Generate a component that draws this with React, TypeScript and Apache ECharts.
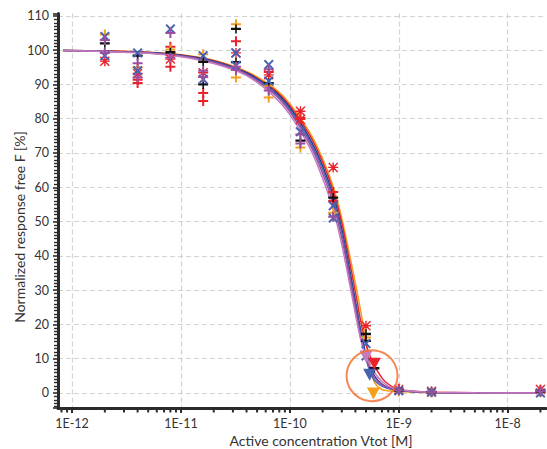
import React, { useEffect, useRef } from 'react';
import * as echarts from 'echarts';

// ---------- data ----------
const xMinLog = -12.129;
const xMaxLog = -7.648;
const yMin = -4.4;
const yMax = 110.7;

const majorDecades = [-12, -11, -10, -9, -8];
const minorMultipliers = [2, 3, 4, 5, 6, 7, 8, 9];
const minorDecades = [-13, -12, -11, -10, -9, -8];

// fitted curves (concentration in M, normalized free response in %)
const curveConc = [8.3e-13, 2e-12, 5e-12, 1e-11, 2e-11, 4e-11, 7e-11, 1e-10, 1.5e-10, 2e-10, 2.5e-10, 3e-10, 3.5e-10, 4e-10, 4.5e-10, 5e-10, 5.5e-10, 6e-10, 7e-10, 8e-10, 1e-9, 1.5e-9, 2e-9, 5e-9, 2e-8];
const orangeFit = [99.9, 99.8, 99.4, 98.7, 97.1, 93.8, 89.2, 84.4, 76.4, 68.4, 60.2, 51.0, 41.0, 32.0, 23.4, 15.4, 7.6, 3.0, 1.0, 0.6, 0.4, 0.2, 0.1, 0.0, 0.0];
const redFit = [99.9, 99.75, 99.35, 98.6, 96.9, 93.5, 88.8, 83.8, 75.6, 67.4, 59.0, 49.6, 39.0, 29.4, 20.6, 14.2, 10.4, 7.8, 4.4, 2.6, 1.0, 0.4, 0.2, 0.05, 0.0];
const navyFit = [99.9, 99.7, 99.3, 98.5, 96.8, 93.4, 88.4, 83.2, 74.6, 66.2, 57.6, 47.8, 36.8, 26.8, 17.8, 11.2, 7.4, 4.9, 2.6, 1.6, 0.8, 0.3, 0.15, 0.02, 0.0];
const blueFit = [99.9, 99.7, 99.25, 98.4, 96.6, 93.1, 88.0, 82.6, 73.8, 65.2, 56.6, 46.6, 35.6, 25.6, 16.8, 10.0, 5.8, 3.6, 2.0, 1.3, 0.7, 0.3, 0.12, 0.02, 0.0];
const purpleFit = [99.9, 99.65, 99.2, 98.3, 96.4, 92.9, 87.5, 82.0, 73.0, 64.0, 55.2, 45.0, 34.4, 24.4, 15.8, 10.2, 6.6, 4.4, 2.4, 1.5, 0.8, 0.3, 0.15, 0.02, 0.0];
const pinkFit = [99.9, 99.6, 99.1, 98.1, 96.1, 92.6, 86.8, 81.2, 72.0, 62.6, 53.6, 43.2, 32.6, 23.0, 15.2, 10.6, 7.8, 5.8, 3.4, 2.0, 1.0, 0.4, 0.2, 0.03, 0.0];

// measured points [concentration, response %]
const redPlusPts = [[4e-12, 91.4], [4e-12, 90.4], [8e-12, 101], [8e-12, 95.2], [1.6e-11, 87.5], [1.6e-11, 85.2], [3.2e-11, 102.6], [6.4e-11, 93.6], [1.25e-10, 80.2], [2.5e-10, 58.6], [2.5e-10, 56.0], [1e-9, 1.2], [2e-8, 0.8]];
const redStarPts = [[2e-12, 96.8], [4e-12, 93.2], [8e-12, 97.4], [1.6e-11, 93.4], [3.2e-11, 99.2], [6.4e-11, 92.8], [1.25e-10, 82.2], [1.25e-10, 79.8], [2.5e-10, 65.8], [5e-10, 19.6], [1e-9, 1.0], [2e-9, 0.5], [2e-8, 1.0]];
const orangePlusPts = [[2e-12, 111.8], [2e-12, 104.6], [4e-12, 95.0], [8e-12, 100.2], [1.6e-11, 98.8], [3.2e-11, 107.6], [3.2e-11, 92.0], [6.4e-11, 89.6], [6.4e-11, 86.2], [1.25e-10, 71.6], [2.5e-10, 52.6], [5e-10, 16.2], [1e-9, 0.4], [2e-9, 0.1], [2e-8, 0.2]];
const blackPts = [[2e-12, 102.0], [4e-12, 98.4], [8e-12, 99.4], [1.6e-11, 96.6], [1.6e-11, 90.0], [3.2e-11, 106.2], [3.2e-11, 96.5], [6.4e-11, 90.4], [1.25e-10, 73.6], [2.5e-10, 57.0], [5e-10, 17.2], [5e-10, 15.2], [5.97e-10, 7.2], [1e-9, 0.7], [2e-9, 0.2], [2e-8, 0.3]];
const blueCrossPts = [[2e-12, 104.0], [2e-12, 98.4], [4e-12, 99.2], [4e-12, 94.0], [8e-12, 106.2], [1.6e-11, 98.4], [1.6e-11, 91.5], [3.2e-11, 99.2], [3.2e-11, 95.5], [6.4e-11, 95.8], [6.4e-11, 91.0], [1.25e-10, 76.2], [2.5e-10, 54.6], [2.5e-10, 51.0], [5e-10, 14.4], [5e-10, 10.8], [1e-9, 0.6], [2e-9, 0.2], [2e-8, 0.0]];
const purplePlusPts = [[2e-12, 103.0], [2e-12, 99.2], [4e-12, 96.2], [4e-12, 92.0], [8e-12, 105.0], [8e-12, 97.8], [1.6e-11, 94.0], [1.6e-11, 92.2], [3.2e-11, 95.2], [3.2e-11, 94.2], [6.4e-11, 94.4], [6.4e-11, 88.2], [1.25e-10, 75.4], [1.25e-10, 72.8], [2.5e-10, 51.4], [1e-9, 0.8], [2e-9, 0.3], [2e-8, 0.4]];
const pinkTrianglePts = [[5e-10, 10.6]];
const redTrianglePts = [[5.97e-10, 8.5]];
const blueTrianglePts = [[5.4e-10, 5.3]];
const orangeTrianglePts = [[5.85e-10, -0.2]];
const highlightPt = [[5.69e-10, 5.0]];

// ---------- styles ----------
const C_RED = '#E8232A';
const C_ORANGE = '#F5A01C';
const C_NAVY = '#263A8A';
const C_BLUE = '#4862B2';
const C_PURPLE = '#9A4FA0';
const C_PINK = '#C57BC0';
const C_BLACK = '#111111';
const C_RING = '#F26A2A';
const AXIS = '#2b2b2b';
const FONT = 'Lato';

const SYM_PLUS = 'path://M4,0H6V4H10V6H6V10H4V6H0V4H4Z';
const SYM_CROSS = 'path://M1.4,0L5,3.6L8.6,0L10,1.4L6.4,5L10,8.6L8.6,10L5,6.4L1.4,10L0,8.6L3.6,5L0,1.4Z';
const SYM_STAR = 'path://M4.3,0H5.7V4.3H10V5.7H5.7V10H4.3V5.7H0V4.3H4.3Z M1,0L5,4L9,0L10,1L6,5L10,9L9,10L5,6L1,10L0,9L4,5L0,1Z';
const SYM_BLACK = 'path://M0,3.7H10V6.3H0Z M4.2,0H5.8V10H4.2Z';
const SYM_TRI_DOWN = 'path://M0,0H10L5,9Z';

const toLog = (pts: number[][]) => pts.map(([c, v]) => [Math.log10(c), v]);

export default function App() {
  const ref = useRef<HTMLDivElement>(null);

  useEffect(() => {
    if (!ref.current) return;
    const chart = echarts.init(ref.current, null, { renderer: 'svg' });

    const fits: [number[], string][] = [
      [orangeFit, C_ORANGE],
      [redFit, C_RED],
      [navyFit, C_NAVY],
      [blueFit, C_BLUE],
      [purpleFit, C_PURPLE],
      [pinkFit, C_PINK],
    ];

    const lineSeries = fits.map(([vals, color]) => ({
      type: 'line',
      data: curveConc.map((c, i) => [Math.log10(c), vals[i]]),
      showSymbol: false,
      symbol: 'none',
      smooth: 0.25,
      lineStyle: { width: 1.5, color },
      z: 2,
      silent: true,
    }));

    const scatter = (pts: number[][], symbol: string, color: string, size: number | number[], z = 3) => ({
      type: 'scatter',
      data: toLog(pts),
      symbol,
      symbolSize: size,
      itemStyle: { color, opacity: 1 },
      z,
      silent: true,
    });

    const minorTickData: number[][] = [];
    minorDecades.forEach((d) =>
      minorMultipliers.forEach((m) => {
        const lv = Math.log10(m) + d;
        if (lv > xMinLog && lv < xMaxLog) minorTickData.push([lv, yMin]);
      })
    );

    chart.setOption({
      animation: false,
      textStyle: { fontFamily: FONT },
      grid: { left: 58, right: 1, top: 13.5, bottom: 41, containLabel: false },
      xAxis: {
        type: 'value',
        min: xMinLog,
        max: xMaxLog,
        minInterval: 1,
        maxInterval: 1,
        splitNumber: 5,
        axisLine: { show: true, onZero: false, lineStyle: { color: AXIS, width: 3 } },
        axisTick: { show: true, length: 5, lineStyle: { color: AXIS, width: 2 }, customValues: majorDecades },
        axisLabel: {
          color: '#333',
          fontSize: 12.5,
          margin: 9,
          customValues: majorDecades,
          formatter: (v: number) => '1E' + Math.round(v),
        },
        splitLine: { show: true, lineStyle: { color: '#d2d2d2', type: [5, 3], width: 1.2 } },
      },
      yAxis: {
        type: 'value',
        min: yMin,
        max: yMax,
        minInterval: 10,
        maxInterval: 10,
        splitNumber: 11,
        axisLine: { show: true, onZero: false, lineStyle: { color: AXIS, width: 3 } },
        axisTick: { show: true, length: 5, lineStyle: { color: AXIS, width: 1.6 } },
        minorTick: { show: true, splitNumber: 10, length: 4, lineStyle: { color: AXIS, width: 1.4 } },
        axisLabel: { color: '#333', fontSize: 12.5, margin: 9, showMinLabel: false, showMaxLabel: false },
        splitLine: { show: true, showMinLine: false, showMaxLine: false, lineStyle: { color: '#d2d2d2', type: [5, 3], width: 1.2 } },
      },
      graphic: [
        {
          type: 'text',
          x: 321,
          y: 440,
          style: {
            text: 'Active concentration Vtot [M]',
            fill: '#333',
            font: `14px ${FONT}`,
            align: 'center',
            verticalAlign: 'middle',
          },
          silent: true,
        },
        {
          type: 'text',
          x: 19,
          y: 227,
          rotation: Math.PI / 2,
          style: {
            text: 'Normalized response free F [%]',
            fill: '#333',
            font: `14px ${FONT}`,
            align: 'center',
            verticalAlign: 'middle',
          },
          silent: true,
        },
      ],
      series: [
        ...lineSeries,
        scatter(redPlusPts, SYM_PLUS, C_RED, 10),
        scatter(redStarPts, SYM_STAR, C_RED, 10),
        scatter(orangePlusPts, SYM_PLUS, C_ORANGE, 10),
        scatter(blackPts, SYM_BLACK, C_BLACK, [10, 9]),
        scatter(blueCrossPts, SYM_CROSS, C_BLUE, 10),
        scatter(purplePlusPts, SYM_PLUS, C_PURPLE, 10),
        scatter(pinkTrianglePts, SYM_TRI_DOWN, C_PINK, [13, 12], 4),
        scatter(redTrianglePts, SYM_TRI_DOWN, C_RED, [13, 12], 4),
        scatter(blueTrianglePts, SYM_TRI_DOWN, C_BLUE, [13, 12], 4),
        scatter(orangeTrianglePts, SYM_TRI_DOWN, C_ORANGE, [13, 12], 4),
        {
          type: 'scatter',
          data: toLog(highlightPt),
          symbol: 'circle',
          symbolSize: 51,
          itemStyle: { color: 'rgba(0,0,0,0)', borderColor: C_RING, borderWidth: 2 },
          z: 5,
          silent: true,
        },
        {
          type: 'custom',
          data: minorTickData,
          silent: true,
          z: 6,
          clip: false,
          renderItem: (_params: any, api: any) => {
            const p = api.coord([api.value(0), api.value(1)]);
            return {
              type: 'line',
              shape: { x1: p[0], y1: p[1] + 1, x2: p[0], y2: p[1] + 4.5 },
              style: { stroke: AXIS, lineWidth: 2 },
            };
          },
        },
      ],
    });

    return () => chart.dispose();
  }, []);

  return <div ref={ref} style={{ position: 'absolute', left: 0, top: 0, width: 547, height: 449 }} />;
}
